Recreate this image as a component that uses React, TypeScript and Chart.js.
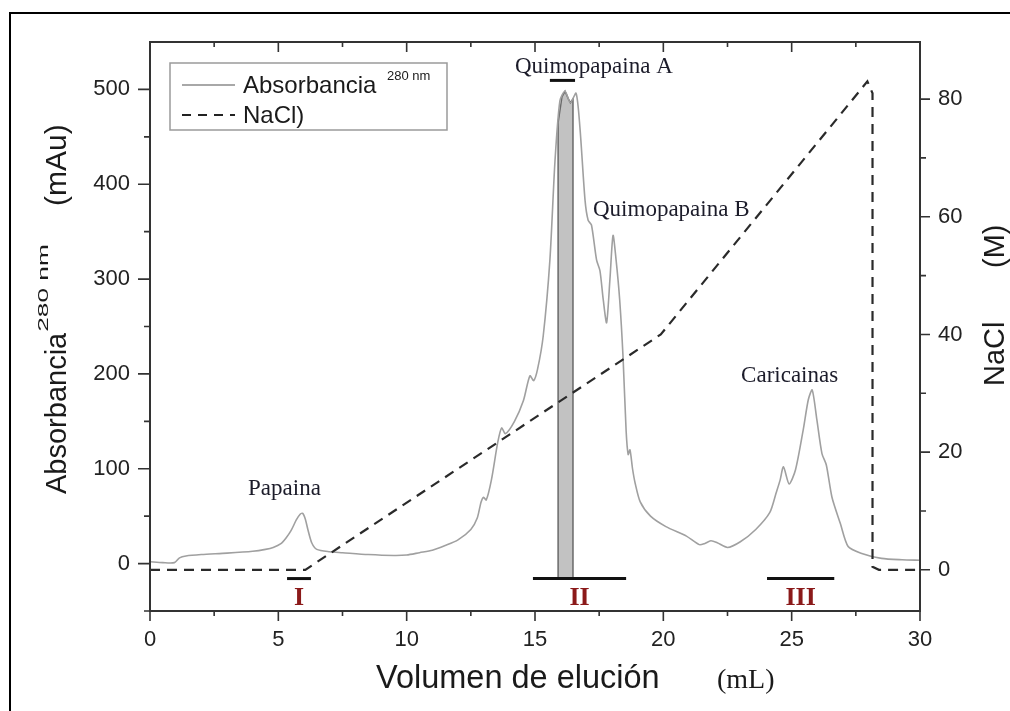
import React, { useEffect, useRef } from 'react';
import { Chart, registerables } from 'chart.js';

Chart.register(...registerables);

// ---- data ----
const volume = [
  0, 0.5, 0.95, 1.15, 1.4, 2, 3, 4, 4.5, 4.8, 5.1, 5.3, 5.5, 5.7, 5.85, 5.95, 6.05, 6.15, 6.3, 6.5,
  7, 7.5, 8.5, 9.5, 10, 10.5, 11, 11.5, 12, 12.5, 12.75, 12.9, 13.0, 13.1, 13.3, 13.55, 13.7, 13.85,
  14.2, 14.55, 14.8, 14.95, 15.1, 15.32, 15.58, 15.78, 15.97, 16.17, 16.38, 16.6, 16.75, 16.95, 17.07,
  17.2, 17.4, 17.53, 17.66, 17.79, 17.92, 18.04, 18.16, 18.3, 18.43, 18.55, 18.63, 18.7, 18.8, 18.9,
  19.1, 19.5, 20.1, 20.9, 21.4, 21.6, 21.85, 22.1, 22.5, 23.0, 23.6, 24.15, 24.4, 24.55, 24.68, 24.9,
  25.15, 25.45, 25.65, 25.8, 25.98, 26.18, 26.35, 26.57, 26.9, 27.2, 27.7, 28.5, 29.3, 30,
];
const absorbance = [
  2, 1, 1, 6, 8, 9.5, 11, 13, 15, 17, 21, 27, 35, 46, 52, 53, 47, 36, 22, 15,
  12.5, 11.5, 9.5, 8.5, 9, 11.5, 14, 19, 25, 36, 48, 65, 70, 67, 88, 128, 143, 137,
  150, 172, 198, 193, 205, 240, 320, 425, 488, 498, 486, 496, 460, 383, 362,
  357, 320, 309, 278, 254, 300, 346, 320, 278, 218, 140, 115, 120, 100, 85,
  65, 50, 39, 29, 20, 21, 24, 22, 17, 23, 36, 54, 75, 88, 102, 84,
  99, 141, 173, 183, 152, 116, 104, 70, 42, 18, 11, 5.5, 4, 3.5,
];

const naclVolume = [0, 6.05, 19.9, 27.95, 28.15, 28.15, 28.4, 30];
const naclConc = [0, 0, 40, 83, 81, 0.5, 0, 0];

// shaded fraction under Quimopapaina A
const bandVolume = [15.9, 15.9, 16.05, 16.17, 16.3, 16.38, 16.48, 16.48];
const bandAbs = [-15.8, 465, 492, 498, 490, 486, 490, -15.8];

// collected fractions (horizontal bars)
const fractionNames = ['I', 'II', 'III'];
const fractionStart = [5.34, 14.92, 24.04];
const fractionEnd = [6.27, 18.55, 26.66];
const fractionLevel = -15.8;
const peakABar = [15.58, 16.56];
const peakALevel = 509.5;

// peak labels
const peakLabels = ['Papaina', 'Quimopapaina A', 'Quimopapaina B', 'Caricainas'];
const peakLabelX = [3.82, 14.22, 17.26, 23.03];
const peakLabelY = [72.6, 516.8, 366.3, 191.6];
const romanY = -43.2;

// ticks
const xTicks = [0, 5, 10, 15, 20, 25, 30];
const yTicks = [0, 100, 200, 300, 400, 500];
const y2Ticks = [0, 20, 40, 60, 80];

const SANS = '"Liberation Sans", Arial, sans-serif';
const SERIF = '"Liberation Serif", "Times New Roman", serif';

const pts = (xs: number[], ys: number[]) => xs.map((x, i) => ({ x, y: ys[i] }));

const decor = {
  id: 'decor',
  afterDraw(chart: any) {
    const ctx = chart.ctx as CanvasRenderingContext2D;
    const { left, right, top, bottom } = chart.chartArea;
    const sx = chart.scales.x;
    const sy = chart.scales.y;
    const sy2 = chart.scales.y2;
    ctx.save();
    // frame
    ctx.strokeStyle = '#333';
    ctx.lineWidth = 2;
    ctx.strokeRect(left, top, right - left, bottom - top);
    // ticks
    ctx.lineWidth = 1.6;
    ctx.beginPath();
    for (let v = 0; v <= 30.001; v += 2.5) {
      const px = sx.getPixelForValue(v);
      const major = Math.abs(v % 5) < 1e-6;
      const len = major ? 10 : 5;
      ctx.moveTo(px, bottom);
      ctx.lineTo(px, bottom + len);
      ctx.moveTo(px, top);
      ctx.lineTo(px, top + len);
    }
    for (let v = -50; v <= 500; v += 50) {
      const py = sy.getPixelForValue(v);
      const major = v % 100 === 0;
      const len = major ? 12 : 6;
      ctx.moveTo(left, py);
      ctx.lineTo(left - len, py);
    }
    for (let v = 0; v <= 80; v += 10) {
      const py = sy2.getPixelForValue(v);
      const major = v % 20 === 0;
      const len = major ? 10 : 6;
      ctx.moveTo(right, py);
      ctx.lineTo(right + len, py);
    }
    ctx.stroke();

    ctx.fillStyle = '#1a1a1a';
    ctx.textBaseline = 'alphabetic';
    ctx.textAlign = 'left';

    // left axis title (rotated)
    ctx.save();
    ctx.translate(66, 494);
    ctx.rotate(-Math.PI / 2);
    ctx.font = `29px ${SANS}`;
    ctx.fillText('Absorbancia', 0, 0);
    const w1 = ctx.measureText('Absorbancia').width;
    ctx.save();
    ctx.translate(w1 + 1, -18);
    ctx.scale(1.75, 1);
    ctx.font = `15px ${SANS}`;
    ctx.fillText('280 nm', 0, 0);
    ctx.restore();
    ctx.restore();
    ctx.save();
    ctx.translate(66, 206);
    ctx.rotate(-Math.PI / 2);
    ctx.font = `30px ${SANS}`;
    ctx.fillText('(mAu)', 0, 0);
    ctx.restore();

    // right axis title
    ctx.save();
    ctx.translate(1004, 386);
    ctx.rotate(-Math.PI / 2);
    ctx.font = `29px ${SANS}`;
    ctx.fillText('NaCl', 0, 0);
    ctx.restore();
    ctx.save();
    ctx.translate(1004, 268);
    ctx.rotate(-Math.PI / 2);
    ctx.font = `29px ${SANS}`;
    ctx.fillText('(M)', 0, 0);
    ctx.restore();

    // x axis title
    ctx.font = `32.5px ${SANS}`;
    ctx.fillText('Volumen de elución', 376, 688);
    ctx.font = `28px ${SERIF}`;
    ctx.fillText('(mL)', 717, 688);

    // legend
    ctx.strokeStyle = '#9a9a9a';
    ctx.lineWidth = 1.5;
    ctx.strokeRect(170, 63, 277, 67);
    ctx.strokeStyle = '#a8a8a8';
    ctx.lineWidth = 2;
    ctx.beginPath();
    ctx.moveTo(182, 85);
    ctx.lineTo(235, 85);
    ctx.stroke();
    ctx.strokeStyle = '#222';
    ctx.setLineDash([9, 7]);
    ctx.beginPath();
    ctx.moveTo(182, 115);
    ctx.lineTo(235, 115);
    ctx.stroke();
    ctx.setLineDash([]);
    ctx.fillStyle = '#1a1a1a';
    ctx.font = `24px ${SANS}`;
    ctx.fillText('Absorbancia', 243, 93);
    ctx.fillText('NaCl)', 243, 123);
    ctx.font = `13px ${SANS}`;
    ctx.fillText('280 nm', 387, 80);

    // peak labels
    ctx.fillStyle = '#1c1c2a';
    ctx.font = `23px ${SERIF}`;
    peakLabels.forEach((t, i) => {
      ctx.fillText(t, sx.getPixelForValue(peakLabelX[i]), sy.getPixelForValue(peakLabelY[i]));
    });

    // fraction numerals
    ctx.fillStyle = '#8b1a1a';
    ctx.font = `bold 26px ${SERIF}`;
    ctx.textAlign = 'center';
    fractionNames.forEach((t, i) => {
      const cx = (fractionStart[i] + fractionEnd[i]) / 2;
      ctx.fillText(t, sx.getPixelForValue(cx), sy.getPixelForValue(romanY));
    });
    ctx.restore();
  },
};

export default function App() {
  const ref = useRef<HTMLCanvasElement>(null);
  useEffect(() => {
    if (!ref.current) return;
    const barSets = fractionNames.map((n, i) => ({
      label: 'Fracción ' + n,
      data: pts([fractionStart[i], fractionEnd[i]], [fractionLevel, fractionLevel]),
      yAxisID: 'y',
      borderColor: '#111',
      borderWidth: 3,
      pointRadius: 0,
      fill: false,
      order: 0,
    }));
    const chart = new Chart(ref.current, {
      type: 'line',
      data: {
        datasets: [
          {
            label: 'Absorbancia 280 nm',
            data: pts(volume, absorbance),
            yAxisID: 'y',
            borderColor: '#a0a0a0',
            borderWidth: 1.6,
            pointRadius: 0,
            fill: false,
            tension: 0.25,
            order: 2,
          },
          {
            label: 'NaCl)',
            data: pts(naclVolume, naclConc),
            yAxisID: 'y2',
            borderColor: '#2a2a2a',
            borderWidth: 2.2,
            borderDash: [10, 7],
            pointRadius: 0,
            fill: false,
            tension: 0,
            order: 1,
          },
          {
            label: 'Quimopapaina A (fracción)',
            data: pts(bandVolume, bandAbs),
            yAxisID: 'y',
            borderColor: '#6a6a6a',
            borderWidth: 1.5,
            backgroundColor: '#c2c2c2',
            pointRadius: 0,
            fill: { value: fractionLevel },
            tension: 0,
            order: 3,
          },
          {
            label: 'Quimopapaina A (barra)',
            data: pts(peakABar, [peakALevel, peakALevel]),
            yAxisID: 'y',
            borderColor: '#111',
            borderWidth: 3,
            pointRadius: 0,
            fill: false,
            order: 0,
          },
          ...barSets,
        ],
      },
      options: {
        responsive: false,
        animation: false,
        layout: { padding: { top: 42, left: 0, right: 0, bottom: 0 } },
        plugins: { legend: { display: false }, tooltip: { enabled: false } },
        scales: {
          x: {
            type: 'linear',
            position: 'bottom',
            min: 0,
            max: 30,
            afterBuildTicks: (s: any) => { s.ticks = xTicks.map((v) => ({ value: v })); },
            afterFit: (s: any) => { s.height = 100; },
            grid: { display: false, drawTicks: true, tickLength: 10 },
            border: { display: false },
            ticks: { padding: 6, color: '#222', font: { family: SANS, size: 22 }, maxRotation: 0 },
          },
          y: {
            type: 'linear',
            position: 'left',
            min: -50,
            max: 550,
            afterBuildTicks: (s: any) => { s.ticks = yTicks.map((v) => ({ value: v })); },
            afterFit: (s: any) => { s.width = 150; },
            grid: { display: false, drawTicks: true, tickLength: 12 },
            border: { display: false },
            ticks: { padding: 8, color: '#222', font: { family: SANS, size: 22 } },
          },
          y2: {
            type: 'linear',
            position: 'right',
            min: -7,
            max: 89.7,
            afterBuildTicks: (s: any) => { s.ticks = y2Ticks.map((v) => ({ value: v })); },
            afterFit: (s: any) => { s.width = 90; },
            grid: { display: false, drawTicks: true, tickLength: 10 },
            border: { display: false },
            ticks: { padding: 8, color: '#222', font: { family: SANS, size: 22 } },
          },
        },
      } as any,
      plugins: [decor],
    });
    return () => chart.destroy();
  }, []);

  return (
    <div style={{ position: 'fixed', left: 0, top: 0, width: 1010, height: 711, overflow: 'hidden', background: '#fff' }}>
      <div style={{ position: 'absolute', left: 9, top: 12, width: 1020, height: 720, borderLeft: '2px solid #000', borderTop: '2px solid #000' }} />
      <canvas ref={ref} width={1010} height={711} style={{ position: 'absolute', left: 0, top: 0, width: 1010, height: 711 }} />
    </div>
  );
}
